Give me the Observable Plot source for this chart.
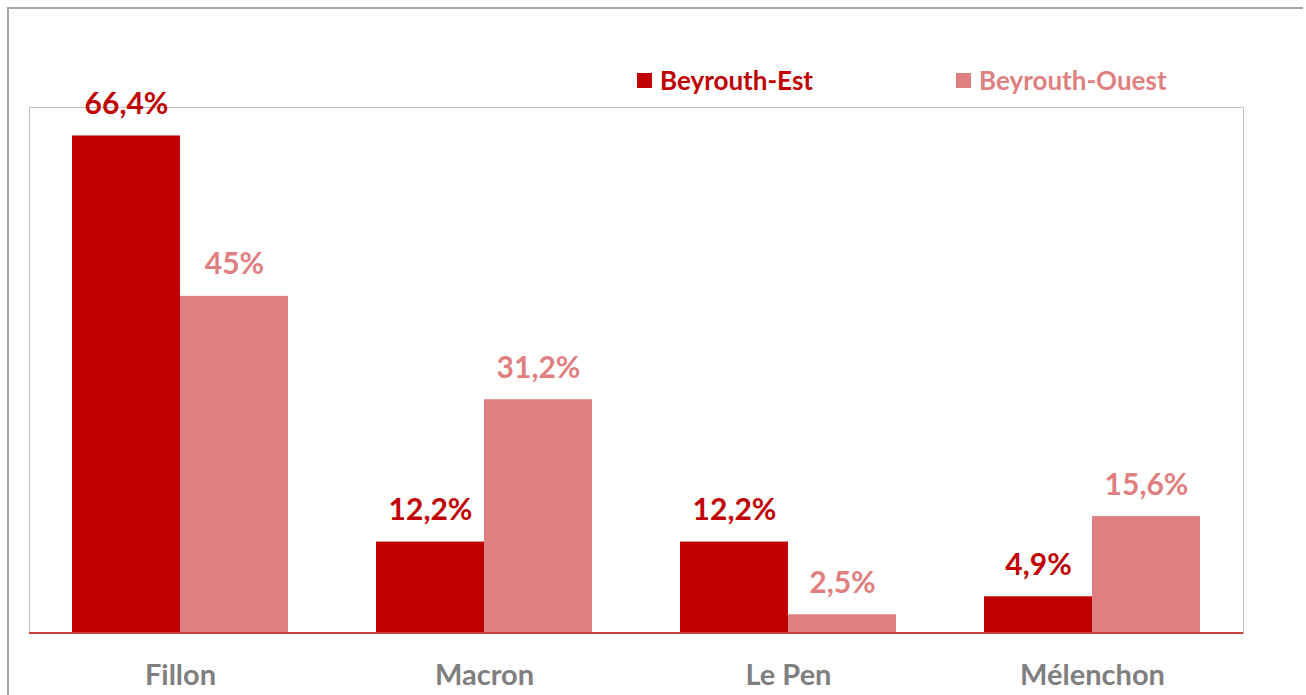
<!DOCTYPE html>
<html>
<head>
<meta charset="utf-8">
<script src="https://cdn.jsdelivr.net/npm/d3@7"></script>
<script src="https://cdn.jsdelivr.net/npm/@observablehq/plot@0.6"></script>
<style>
  html, body { margin: 0; padding: 0; background: #fff; }
  #page { position: relative; width: 1306px; height: 695px; overflow: hidden; font-family: Lato, "Open Sans", sans-serif; }
  #outer { position: absolute; left: 7px; top: 7px; width: 1294px; height: 720px; border-top: 2px solid #a6a6a6; border-left: 2px solid #a6a6a6; pointer-events: none; }
  #legend { position: relative; height: 88px; }
  .item { position: absolute; top: 65px; display: flex; align-items: center; font-weight: bold; font-size: 26px; line-height: 30px; }
  .sw { width: 15px; height: 15px; margin-right: 8px; }
  #chart svg { display: block; overflow: visible; }
</style>
</head>
<body>
<div id="page">
  <div id="outer"></div>
  <div id="legend"></div>
  <div id="chart"></div>
</div>
<script>
const categories = ["Fillon", "Macron", "Le Pen", "Mélenchon"];
const seriesNames = ["Beyrouth-Est", "Beyrouth-Ouest"];
const estValues = [66.4, 12.2, 12.2, 4.9];
const ouestValues = [45, 31.2, 2.5, 15.6];
const seriesColors = ["#c00000", "#df7f80"];

const rows = [];
categories.forEach((c, i) => {
  rows.push({cat: c, series: seriesNames[0], value: estValues[i]});
  rows.push({cat: c, series: seriesNames[1], value: ouestValues[i]});
});
const fmt = v => String(v).replace(".", ",") + "%";

// legend
const legend = document.getElementById("legend");
const legendLeft = [637, 956];
seriesNames.forEach((s, i) => {
  const it = document.createElement("div");
  it.className = "item";
  it.style.left = legendLeft[i] + "px";
  it.style.color = seriesColors[i];
  it.innerHTML = `<span class="sw" style="background:${seriesColors[i]}"></span><span>${s}</span>`;
  legend.appendChild(it);
});

const W = 1306, H = 607, mL = 29, mR = 63, mT = 19, mB = 62;
const plot = Plot.plot({
  width: W, height: H,
  marginLeft: mL, marginRight: mR, marginTop: mT, marginBottom: mB,
  style: {fontFamily: "Lato, 'Open Sans', sans-serif", background: "transparent"},
  fx: {domain: categories, paddingInner: 0.2895, paddingOuter: 0.1414, round: false, axis: null, label: null},
  x: {domain: seriesNames, padding: 0, round: false, axis: null},
  y: {domain: [0, 70.2], axis: null},
  color: {domain: seriesNames, range: seriesColors},
  marks: [
    Plot.barY(rows, {fx: "cat", x: "series", y: "value", fill: "series"}),
    Plot.text(rows, {fx: "cat", x: "series", y: "value", text: d => fmt(d.value), fill: "series",
      lineAnchor: "bottom", dy: -22, fontSize: 30, fontWeight: "bold"}),
    Plot.text(categories, {fx: d => d, text: d => d, frameAnchor: "bottom", dy: 42, lineAnchor: "middle",
      fill: "#7f7f7f", fontSize: 29, fontWeight: "bold"})
  ]
});
document.getElementById("chart").appendChild(plot);

// plot-area frame (gray) and baseline (red), from the plot's margins
const svg = d3.select(plot);
svg.insert("rect", ":first-child")
  .attr("x", mL + 0.5).attr("y", mT + 0.5)
  .attr("width", W - mL - mR).attr("height", H - mT - mB)
  .attr("fill", "none").attr("stroke", "#bfbfbf").attr("stroke-width", 1);
svg.append("line")
  .attr("x1", mL).attr("x2", W - mR)
  .attr("y1", H - mB).attr("y2", H - mB)
  .attr("stroke", "#c9403f").attr("stroke-width", 2);
</script>
</body>
</html>
